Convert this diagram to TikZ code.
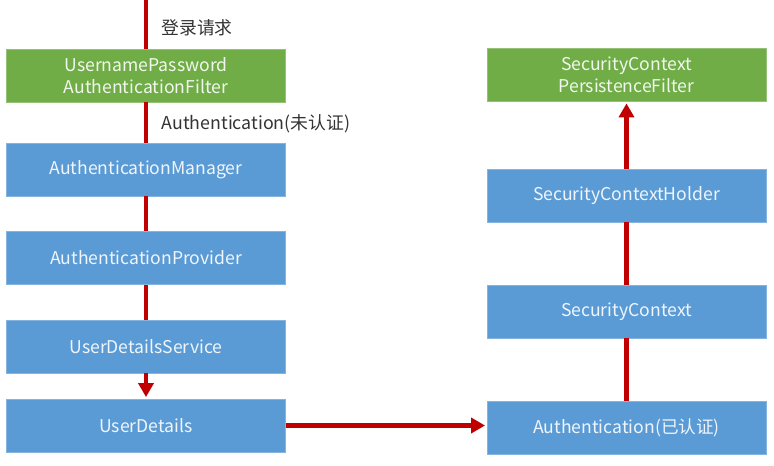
\documentclass[tikz,border=0pt]{standalone}
\usepackage{fontspec}
\setmainfont{Noto Sans CJK SC}
\usetikzlibrary{arrows.meta, positioning}

\definecolor{boxgreen}{HTML}{70AD47}
\definecolor{boxblue}{HTML}{5B9BD5}
\definecolor{flowred}{HTML}{C00000}

\tikzset{
    stage/.style={draw=#1!75!white, line width=0.8pt, fill=#1, text=white!90!#1,
        minimum width=279pt, minimum height=53pt, inner sep=0pt, align=center,
        font=\fontsize{17.6}{22}\selectfont},
    flow/.style={draw=flowred, line width=4.2pt},
    flowtip/.style={flow, -{Triangle[width=15pt,length=14pt]}, shorten >=1.5pt},
    note/.style={anchor=west, text=black!80, font=\fontsize{17.8}{22}\selectfont}
}

\begin{document}
\begin{tikzpicture}[x=1pt, y=-1pt]
    \useasboundingbox (0,0) rectangle (774,466);
    % ---- 左列 ----
    \coordinate (req) at (146,0);
    \node[stage=boxgreen] (upfilter) at (146,75.5) {UsernamePassword\\AuthenticationFilter};
    \node[stage=boxblue] (manager) at (146,169.5) {AuthenticationManager};
    \node[stage=boxblue] (provider) at (146,258) {AuthenticationProvider};
    \node[stage=boxblue] (udservice) at (146,346.5) {UserDetailsService};
    \node[stage=boxblue] (udetails) at (146,425.5) {UserDetails};
    % ---- 右列 ----
    \node[stage=boxgreen] (persist) at (626.5,75) {SecurityContext\\PersistenceFilter};
    \node[stage=boxblue] (holder) at (626.5,195.5) {SecurityContextHolder};
    \node[stage=boxblue] (context) at (626.5,311.5) {SecurityContext};
    \node[stage=boxblue] (authok) at (626.5,427.5) {Authentication(已认证)};
    % ---- 连线 ----
    \draw[flow] (req) -- (upfilter.north);
    \draw[flow] (upfilter.south) -- (manager.north);
    \draw[flow] (manager.south) -- (provider.north);
    \draw[flow] (provider.south) -- (udservice.north);
    \draw[flowtip] (udservice.south) -- (udetails.north);
    \draw[flowtip] (udetails.east) -- (authok.west |- udetails.east);
    \draw[flow] (authok.north) -- (context.south);
    \draw[flow] (context.north) -- (holder.south);
    \draw[flowtip] (holder.north) -- (persist.south);
    % ---- 标注 ----
    \node[note] (reqlabel) at (158,28) {登录请求};
    \node[note] (unauth) at (158,124) {Authentication(未认证)};
\end{tikzpicture}
\end{document}
